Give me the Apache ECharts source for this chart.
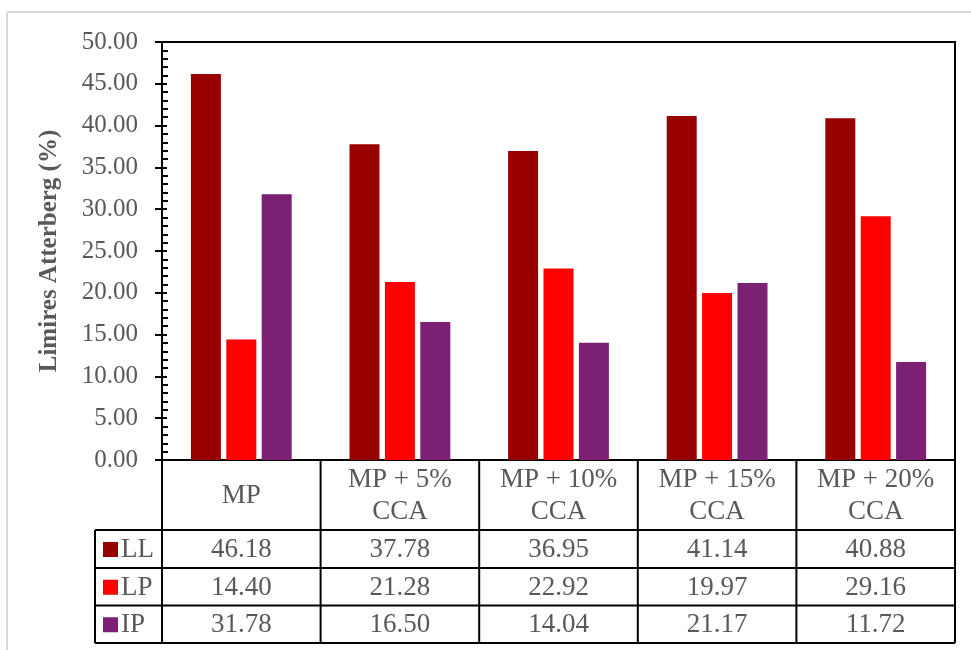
<!DOCTYPE html>
<html>
<head>
<meta charset="utf-8">
<script src="https://cdn.jsdelivr.net/npm/echarts@6/dist/echarts.min.js"></script>
<style>
  html, body { margin: 0; padding: 0; background: #fff; }
  #main { width: 971px; height: 650px; }
</style>
</head>
<body>
<div id="main"></div>
<script>
// data
var categories = ['MP', 'MP + 5%\nCCA', 'MP + 10%\nCCA', 'MP + 15%\nCCA', 'MP + 20%\nCCA'];
var seriesNames = ['LL', 'LP', 'IP'];
var llValues = [46.18, 37.78, 36.95, 41.14, 40.88];
var lpValues = [14.40, 21.28, 22.92, 19.97, 29.16];
var ipValues = [31.78, 16.50, 14.04, 21.17, 11.72];
var colors = ['#990000', '#ff0000', '#7b2072'];

var FONT = '"Liberation Serif", "Times New Roman", serif';
var GRAY = '#595959';

var myChart = echarts.init(document.getElementById('main'));

var gridLeft = 162, gridTop = 42, gridW = 793, gridH = 418;

myChart.setOption({
    animation: false,
    grid: {
        left: gridLeft, top: gridTop, width: gridW, height: gridH,
        show: true, borderColor: '#000', borderWidth: 2, backgroundColor: 'transparent'
    },
    xAxis: {
        type: 'category',
        data: categories,
        axisLine: { lineStyle: { color: '#000', width: 2 } },
        axisTick: { show: false },
        axisLabel: { show: false }
    },
    yAxis: [{
        type: 'value',
        min: 0, max: 50, interval: 5,
        name: 'Limires Atterberg (%)',
        nameLocation: 'middle',
        nameGap: 100,
        nameTextStyle: { fontFamily: FONT, fontSize: 25, fontWeight: 'bold', color: GRAY },
        axisLine: { show: true, lineStyle: { color: '#000', width: 2 } },
        axisTick: { show: true, length: 7, lineStyle: { color: '#000', width: 2 } },
        axisLabel: {
            fontFamily: FONT, fontSize: 25, color: GRAY, margin: 24,
            formatter: function (v) { return v.toFixed(2); }
        },
        splitLine: { show: false }
    }, {
        // inner ticks + minor ticks
        type: 'value',
        position: 'left',
        min: 0, max: 50, interval: 5,
        axisLine: { show: true, lineStyle: { color: '#000', width: 2 } },
        axisTick: { show: true, inside: true, length: 5, lineStyle: { color: '#000', width: 2 } },
        minorTick: { show: true, splitNumber: 5, length: 6, lineStyle: { color: '#000', width: 2 } },
        axisLabel: { show: false },
        splitLine: { show: false }
    }],
    series: [
        { name: seriesNames[0], type: 'bar', data: llValues, barWidth: 30, barGap: '18%', itemStyle: { color: colors[0] } },
        { name: seriesNames[1], type: 'bar', data: lpValues, barWidth: 30, barGap: '18%', itemStyle: { color: colors[1] } },
        { name: seriesNames[2], type: 'bar', data: ipValues, barWidth: 30, barGap: '18%', itemStyle: { color: colors[2] } }
    ]
});

// data table under the plot, columns taken from the category axis
var rowValues = [llValues, lpValues, ipValues];
var tableTop = gridTop + gridH;
var rowLines = [tableTop, 530, 568, 605.5, 643];
var legendLeft = 95;
var gridRight = gridLeft + gridW;

var c0 = myChart.convertToPixel({ xAxisIndex: 0 }, 0);
var c1 = myChart.convertToPixel({ xAxisIndex: 0 }, 1);
var band = c1 - c0;

var elements = [];
var line = function (x1, y1, x2, y2, color, w) {
    elements.push({
        type: 'line', silent: true,
        shape: { x1: x1, y1: y1, x2: x2, y2: y2 },
        style: { stroke: color || '#000', lineWidth: w || 2 }
    });
};
var text = function (str, x, y, align) {
    elements.push({
        type: 'text', silent: true,
        x: x, y: y,
        style: {
            text: str, fill: GRAY, font: '27px ' + FONT,
            align: align || 'center', verticalAlign: 'middle', lineHeight: 32
        }
    });
};

// outer light frame
line(7, 12, 971, 12, '#d9d9d9', 2);
line(7, 12, 7, 650, '#d9d9d9', 2);

// horizontal lines
line(gridLeft, rowLines[0], gridRight, rowLines[0]);
for (var r = 1; r < rowLines.length; r++) {
    line(legendLeft, rowLines[r], gridRight, rowLines[r]);
}
// vertical lines
line(legendLeft, rowLines[1], legendLeft, rowLines[4]);
for (var i = 0; i <= categories.length; i++) {
    var x = i < categories.length ? myChart.convertToPixel({ xAxisIndex: 0 }, i) - band / 2
                                   : myChart.convertToPixel({ xAxisIndex: 0 }, i - 1) + band / 2;
    line(x, rowLines[0], x, rowLines[4]);
}

// header cells
categories.forEach(function (cat, i) {
    var cx = myChart.convertToPixel({ xAxisIndex: 0 }, i);
    text(cat, cx, (rowLines[0] + rowLines[1]) / 2 + 1);
});

// series rows
seriesNames.forEach(function (name, s) {
    var cy = (rowLines[s + 1] + rowLines[s + 2]) / 2 + 1;
    elements.push({
        type: 'rect', silent: true,
        shape: { x: 103, y: cy - 8, width: 15, height: 15 },
        style: { fill: colors[s] }
    });
    text(name, 121, cy, 'left');
    rowValues[s].forEach(function (v, i) {
        var cx = myChart.convertToPixel({ xAxisIndex: 0 }, i);
        text(v.toFixed(2), cx, cy);
    });
});

myChart.setOption({ graphic: elements });
</script>
</body>
</html>
